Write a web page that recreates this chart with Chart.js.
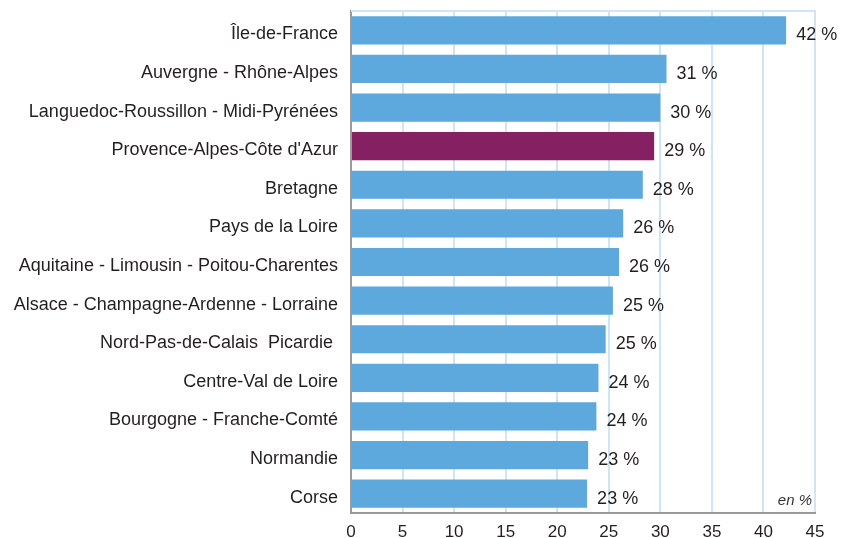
<!DOCTYPE html>
<html>
<head>
<meta charset="utf-8">
<script src="https://cdn.jsdelivr.net/npm/chart.js@4/dist/chart.umd.min.js"></script>
<style>
html,body{margin:0;padding:0;background:#fff;}
canvas{display:block;}
</style>
</head>
<body>
<canvas id="c" width="845" height="538"></canvas>
<script>
const regions = [
  "Île-de-France",
  "Auvergne - Rhône-Alpes",
  "Languedoc-Roussillon - Midi-Pyrénées",
  "Provence-Alpes-Côte d'Azur",
  "Bretagne",
  "Pays de la Loire",
  "Aquitaine - Limousin - Poitou-Charentes",
  "Alsace - Champagne-Ardenne - Lorraine",
  "Nord-Pas-de-Calais  Picardie ",
  "Centre-Val de Loire",
  "Bourgogne - Franche-Comté",
  "Normandie",
  "Corse"
];
const values = [42.2, 30.6, 30.0, 29.4, 28.3, 26.4, 26.0, 25.4, 24.7, 24.0, 23.8, 23.0, 22.9];
const valueLabels = ["42 %","31 %","30 %","29 %","28 %","26 %","26 %","25 %","25 %","24 %","24 %","23 %","23 %"];
const highlighted = "Provence-Alpes-Côte d'Azur";
const unitNote = "en %";

const BLUE = "#5da9dd";
const PURPLE = "#852063";
const FONT = "'Liberation Sans', Arial, sans-serif";

const labelPlugin = {
  id: 'labels',
  beforeDatasetsDraw(chart) {
    const {ctx, chartArea} = chart;
    ctx.save();
    ctx.strokeStyle = '#cfe5f6';
    ctx.lineWidth = 2;
    ctx.beginPath();
    ctx.moveTo(chartArea.left, chartArea.top);
    ctx.lineTo(chartArea.right + 1, chartArea.top);
    ctx.stroke();
    ctx.restore();
  },
  afterDatasetsDraw(chart) {
    const {ctx, chartArea} = chart;
    const meta = chart.getDatasetMeta(0);
    ctx.save();
    ctx.font = "18px " + FONT;
    ctx.fillStyle = "#231f20";
    ctx.textBaseline = "middle";
    ctx.textAlign = "left";
    meta.data.forEach((el, i) => {
      ctx.fillText(valueLabels[i], el.x + 10, el.y + 5);
    });
    ctx.font = "italic 15px " + FONT;
    ctx.textAlign = "right";
    ctx.fillStyle = "#333";
    ctx.fillText(unitNote, chartArea.right - 3, chartArea.bottom - 12);
    ctx.restore();
  }
};

new Chart(document.getElementById('c'), {
  type: 'bar',
  data: {
    labels: regions,
    datasets: [{
      data: values,
      backgroundColor: regions.map(r => r === highlighted ? PURPLE : BLUE),
      borderWidth: 0,
      categoryPercentage: 1,
      barPercentage: 0.73
    }]
  },
  options: {
    indexAxis: 'y',
    responsive: false,
    animation: false,
    layout: { padding: { top: 11, right: 30, left: 0, bottom: 0 } },
    plugins: { legend: { display: false }, tooltip: { enabled: false } },
    scales: {
      x: {
        min: 0, max: 45,
        ticks: { stepSize: 5, color: '#231f20', font: { size: 17, family: FONT }, padding: 9 },
        grid: { color: '#cfe5f6', lineWidth: 2, drawTicks: false },
        border: { color: '#9a9a9a', width: 2 },
        afterFit(s) { s.height = 25; s.paddingLeft = 0; s.paddingRight = 0; }
      },
      y: {
        ticks: { color: '#231f20', font: { size: 18, family: FONT }, padding: 13, autoSkip: false, labelOffset: 4 },
        grid: { display: false, drawTicks: false },
        border: { color: '#9a9a9a', width: 2 },
        afterFit(s) { s.width = 351; s.paddingTop = 0; s.paddingBottom = 0; }
      }
    }
  },
  plugins: [labelPlugin]
});
</script>
</body>
</html>
